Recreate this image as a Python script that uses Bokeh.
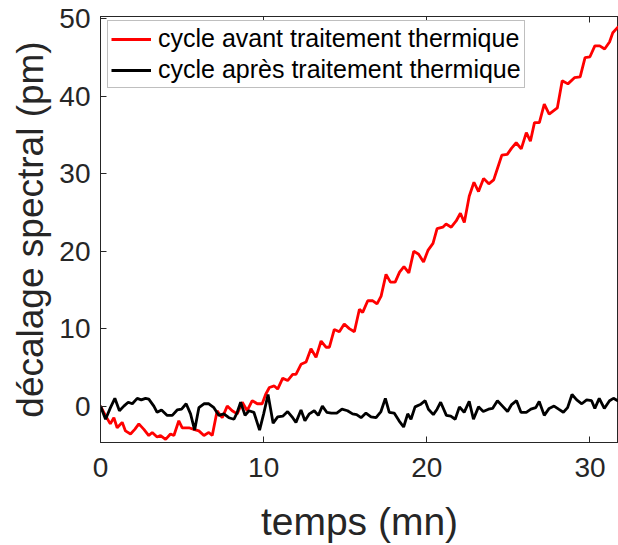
from bokeh.plotting import figure
from bokeh.models import LinearAxis, Range1d, Legend, LegendItem, FixedTicker
from bokeh.embed import file_html
from bokeh.resources import INLINE

# ---- data ----
t_avant = [0.0, 0.3, 0.6, 0.82, 1.02, 1.33, 1.53, 1.84, 2.1, 2.35, 2.66, 2.96, 3.17, 3.47, 3.68, 3.99,
           4.29, 4.5, 4.8, 5.01, 5.42, 5.72, 6.03, 6.34, 6.64, 6.85, 7.15, 7.46, 7.77, 8.07, 8.38, 8.69,
           8.99, 9.3, 9.61, 9.91, 10.12, 10.35, 10.65, 10.86, 11.17, 11.47, 11.78, 11.98, 12.29, 12.6,
           12.9, 13.21, 13.52, 13.82, 14.03, 14.33, 14.64, 14.94, 15.25, 15.56, 15.87, 16.07, 16.38,
           16.69, 16.95, 17.2, 17.5, 17.77, 18.06, 18.33, 18.6, 18.9, 19.2, 19.5, 19.8, 20.07, 20.38,
           20.63, 20.98, 21.18, 21.5, 21.8, 22.06, 22.3, 22.6, 22.89, 23.17, 23.48, 23.8, 24.1, 24.35,
           24.6, 24.93, 25.2, 25.48, 25.79, 26.1, 26.35, 26.6, 26.9, 27.2, 27.5, 28.0, 28.3, 28.65,
           29.05, 29.4, 29.7, 30.0, 30.3, 30.6, 30.9, 31.2, 31.4, 31.7, 31.9]
d_avant = [0.0, -1.2, -2.3, -1.5, -2.8, -2.1, -3.2, -3.6, -3.0, -2.3, -3.0, -3.8, -3.4, -4.0, -3.8, -4.3,
           -3.6, -3.8, -1.9, -2.8, -2.8, -3.0, -3.2, -3.8, -3.4, -3.8, -0.6, -1.5, 0.0, -0.6, -1.0, 0.5,
           -0.6, 0.7, 0.3, 0.3, 1.5, 2.4, 2.6, 2.2, 3.6, 3.3, 4.1, 4.1, 5.4, 5.7,
           7.4, 6.3, 8.4, 7.6, 7.6, 9.9, 9.6, 10.6, 10.0, 9.6, 12.5, 12.1, 13.6,
           13.6, 13.2, 14.2, 17.0, 16.0, 16.0, 17.3, 18.0, 17.2, 20.0, 19.6, 18.6, 20.1, 21.0,
           22.9, 23.1, 23.5, 23.1, 23.9, 24.9, 23.7, 27.1, 28.9, 27.7, 29.4, 28.7, 29.2, 30.8,
           32.4, 32.5, 33.3, 34.0, 33.2, 35.3, 34.2, 36.6, 36.6, 39.0, 37.7, 38.5, 42.0, 41.6,
           42.4, 42.5, 45.0, 45.1, 46.5, 46.5, 46.1, 47.0, 48.2, 48.9, 49.1]

t_apres = [0.0, 0.31, 0.61, 0.88, 1.16, 1.43, 1.7, 1.95, 2.25, 2.5, 2.76, 2.96, 3.27, 3.47, 3.74, 4.09,
           4.4, 4.7, 4.97, 5.25, 5.52, 5.77, 6.03, 6.34, 6.64, 6.95, 7.26, 7.56, 7.87, 8.18, 8.38, 8.59,
           8.86, 9.1, 9.4, 9.75, 10.0, 10.27, 10.58, 10.86, 11.17, 11.47, 11.78, 11.98, 12.29, 12.53,
           12.8, 13.1, 13.35, 13.6, 13.87, 14.15, 14.48, 14.8, 15.14, 15.45, 15.7, 15.97, 16.27, 16.58,
           16.89, 17.19, 17.46, 17.7, 18.0, 18.3, 18.58, 18.83, 19.03, 19.28, 19.6, 19.9, 20.1, 20.4,
           20.63, 20.85, 21.2, 21.47, 21.74, 22.0, 22.29, 22.6, 22.86, 23.17, 23.46, 23.78, 24.03,
           24.33, 24.64, 24.95, 25.2, 25.5, 25.77, 26.1, 26.38, 26.68, 26.89, 27.2, 27.5, 27.8, 28.08,
           28.37, 28.63, 28.9, 29.19, 29.5, 29.8, 30.1, 30.3, 30.57, 30.88, 31.2, 31.44, 31.7, 31.9]
d_apres = [0.0, -1.7, -0.2, 1.0, -0.6, 0.0, 0.5, 0.3, 1.0, 0.8, 1.0, 0.9, 0.0, -0.8, -0.5, -1.2,
           -1.2, -0.5, -0.4, 0.3, -1.0, -3.1, -0.2, 0.3, 0.3, -0.2, -1.2, -1.0, -1.5, -1.7, -0.8, 0.5,
           -1.2, -0.6, -0.8, -3.1, -1.0, 1.5, -2.2, -1.4, -1.3, -0.7, -1.5, -2.1, -0.5, -1.9,
           -1.0, -0.6, -1.2, 0.0, -0.8, -0.9, -0.9, -0.4, -0.6, -1.0, -1.1, -1.5, -0.9, -1.4,
           -1.5, -0.7, 1.0, -0.8, -0.9, -1.9, -2.7, -1.0, -1.7, -0.1, 0.2, 0.7, -0.4, -1.1,
           -0.4, 0.5, -1.2, -1.3, -1.7, -0.1, -0.8, 0.6, -1.7, -0.1, -0.7, -0.4, -0.3,
           0.7, 0.0, -0.7, 0.2, 0.7, -0.8, -0.8, -0.4, -0.2, 0.6, -1.2, -0.3, 0.0, -0.4,
           -0.8, -0.2, 1.5, 0.8, 0.3, 0.8, 0.7, -0.3, 1.0, -0.3, 0.7, 1.0, 0.7, 0.8]

x_ticks = [0, 10, 20, 30]
y_ticks = [0, 10, 20, 30, 40, 50]
labels = ["cycle avant traitement thermique", "cycle après traitement thermique"]

FONT = "Liberation Sans"
AX = "#262626"

p = figure(width=618, height=545, output_backend="svg", toolbar_location=None,
           x_range=Range1d(0, 31.75), y_range=Range1d(-4.7, 50.3),
           min_border_left=100, min_border_right=0, min_border_top=16, min_border_bottom=102)
p.xgrid.visible = False
p.ygrid.visible = False
p.outline_line_color = AX
p.outline_line_width = 1

r1 = p.line(t_avant, d_avant, line_color="#ff0000", line_width=2.8)
r2 = p.line(t_apres, d_apres, line_color="#000000", line_width=2.8)

for ax, ticks in ((p.xaxis[0], x_ticks), (p.yaxis[0], y_ticks)):
    ax.ticker = FixedTicker(ticks=ticks)
    ax.major_tick_in = 6
    ax.major_tick_out = 0
    ax.minor_tick_line_color = None
    ax.axis_line_color = AX
    ax.major_tick_line_color = AX
    ax.major_label_text_font = FONT
    ax.major_label_text_font_size = "28px"
    ax.major_label_text_color = AX
    ax.axis_label_text_font = FONT
    ax.axis_label_text_font_style = "normal"
    ax.axis_label_text_color = AX

p.xaxis[0].axis_label = "temps (mn)"
p.yaxis[0].axis_label = "décalage spectral (pm)"
p.xaxis[0].axis_label_text_font_size = "39px"
p.yaxis[0].axis_label_text_font_size = "37px"
p.xaxis[0].major_label_standoff = 15
p.yaxis[0].major_label_standoff = 10
p.xaxis[0].axis_label_standoff = 20
p.yaxis[0].axis_label_standoff = 5

top_axis = LinearAxis(ticker=FixedTicker(ticks=x_ticks), major_tick_in=6, major_tick_out=0,
                      minor_tick_line_color=None, axis_line_color=AX, major_tick_line_color=AX,
                      major_label_text_font_size="0px", major_label_standoff=0)
p.add_layout(top_axis, "above")

legend = Legend(items=[LegendItem(label=labels[0], renderers=[r1]),
                       LegendItem(label=labels[1], renderers=[r2])],
                location=(7, 354), margin=0, padding=3, spacing=2,
                label_text_font=FONT, label_text_font_size="25px", label_text_color="#000000",
                label_height=28, glyph_height=28, glyph_width=40, label_standoff=7,
                border_line_color="#808080", border_line_width=1,
                background_fill_color="white", background_fill_alpha=1)
p.add_layout(legend)

open("out.html", "w").write(file_html(p, INLINE))
